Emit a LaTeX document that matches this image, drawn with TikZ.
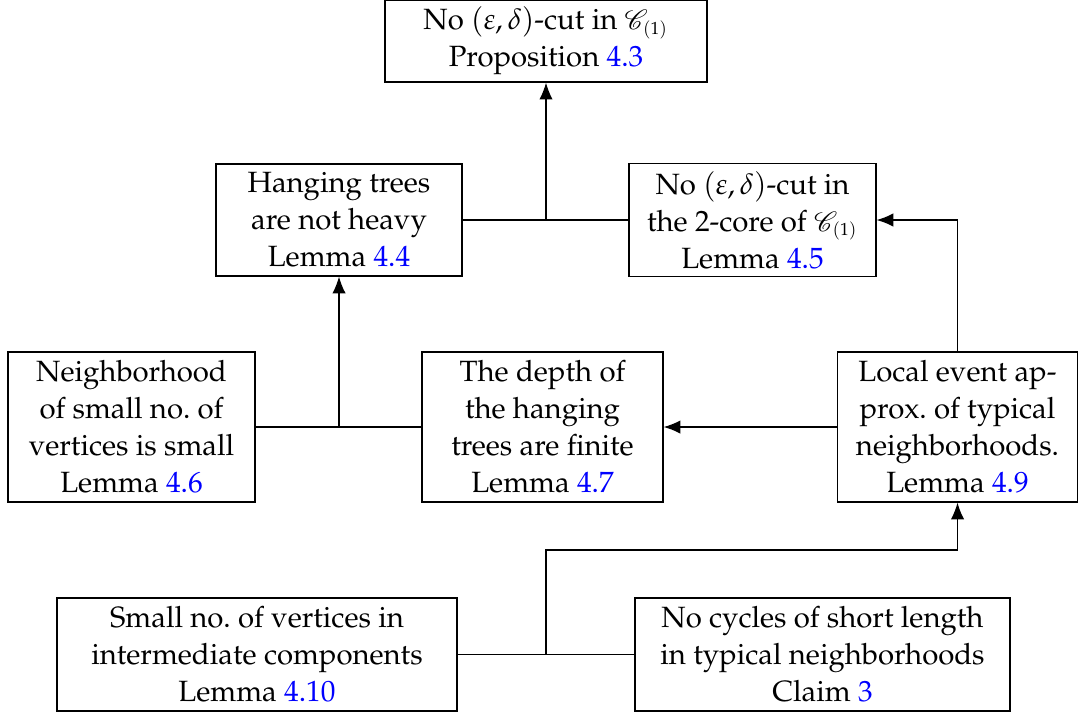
\documentclass[tikz,border=0pt]{standalone}
\usepackage[T1]{fontenc}
\usepackage{mathpazo}
\usepackage{mathrsfs}
\usetikzlibrary{arrows.meta}
\tikzset{
  x=0.324pt, y=-0.324pt,
  box/.style={draw, align=center, inner sep=0pt, font=\fontsize{9.5}{12}\selectfont},
  arr/.style={-{Latex[length=5.4pt,width=4.3pt]}},
}
\newcommand{\refnum}[1]{\textcolor{blue}{#1}}
\newcommand{\Cone}{\mathscr{C}_{\scriptscriptstyle(1)}}
\begin{document}
\begin{tikzpicture}
\useasboundingbox (0,0) rectangle (1078,715);
\node[box, minimum width=104.3pt, minimum height=26.6pt] (top) at (546,41)
  {No $(\varepsilon,\delta)$-cut in $\Cone$\\ Proposition \refnum{4.3}};
\node[box, minimum width=79.7pt, minimum height=36.3pt] (hang) at (339,220)
  {Hanging trees\\ are not heavy\\ Lemma \refnum{4.4}};
\node[box, minimum width=80pt, minimum height=36.6pt] (core) at (752.5,220)
  {No $(\varepsilon,\delta)$-cut in\\ the 2-core of $\Cone$\\ Lemma \refnum{4.5}};
\node[box, minimum width=80pt, minimum height=48.6pt] (neigh) at (131.5,427)
  {Neighborhood\\ of small no.\ of\\ vertices is small\\ Lemma \refnum{4.6}};
\node[box, minimum width=78.1pt, minimum height=48.6pt] (depth) at (542.5,427)
  {The depth of\\ the hanging\\ trees are finite\\ Lemma \refnum{4.7}};
\node[box, minimum width=77.6pt, minimum height=48.6pt] (local) at (957.5,427)
  {Local event ap-\\ prox.\ of typical\\ neighborhoods.\\ Lemma \refnum{4.9}};
\node[box, minimum width=129.6pt, minimum height=36.6pt] (small) at (257,654.5)
  {Small no.\ of vertices in\\ intermediate components\\ Lemma \refnum{4.10}};
\node[box, minimum width=121.5pt, minimum height=36.6pt] (cyc) at (822.5,654.5)
  {No cycles of short length\\ in typical neighborhoods\\ Claim \refnum{3}};
% connectors
\draw (hang.east) -- (core.west);
\coordinate (j1) at (top.south |- hang.east);
\draw[arr] (j1) -- (top.south);
\draw (neigh.east) -- (depth.west);
\coordinate (j2) at (hang.south |- neigh.east);
\draw[arr] (j2) -- (hang.south);
\draw[arr] (local.west) -- (depth.east);
\draw[arr] (local.north) |- (core.east);
\draw (small.east) -- (cyc.west);
\coordinate (j3) at (546,654.5);
\coordinate (bend) at (546,550);
\draw[arr] (j3) -- (bend) -| (local.south);
\end{tikzpicture}
\end{document}
